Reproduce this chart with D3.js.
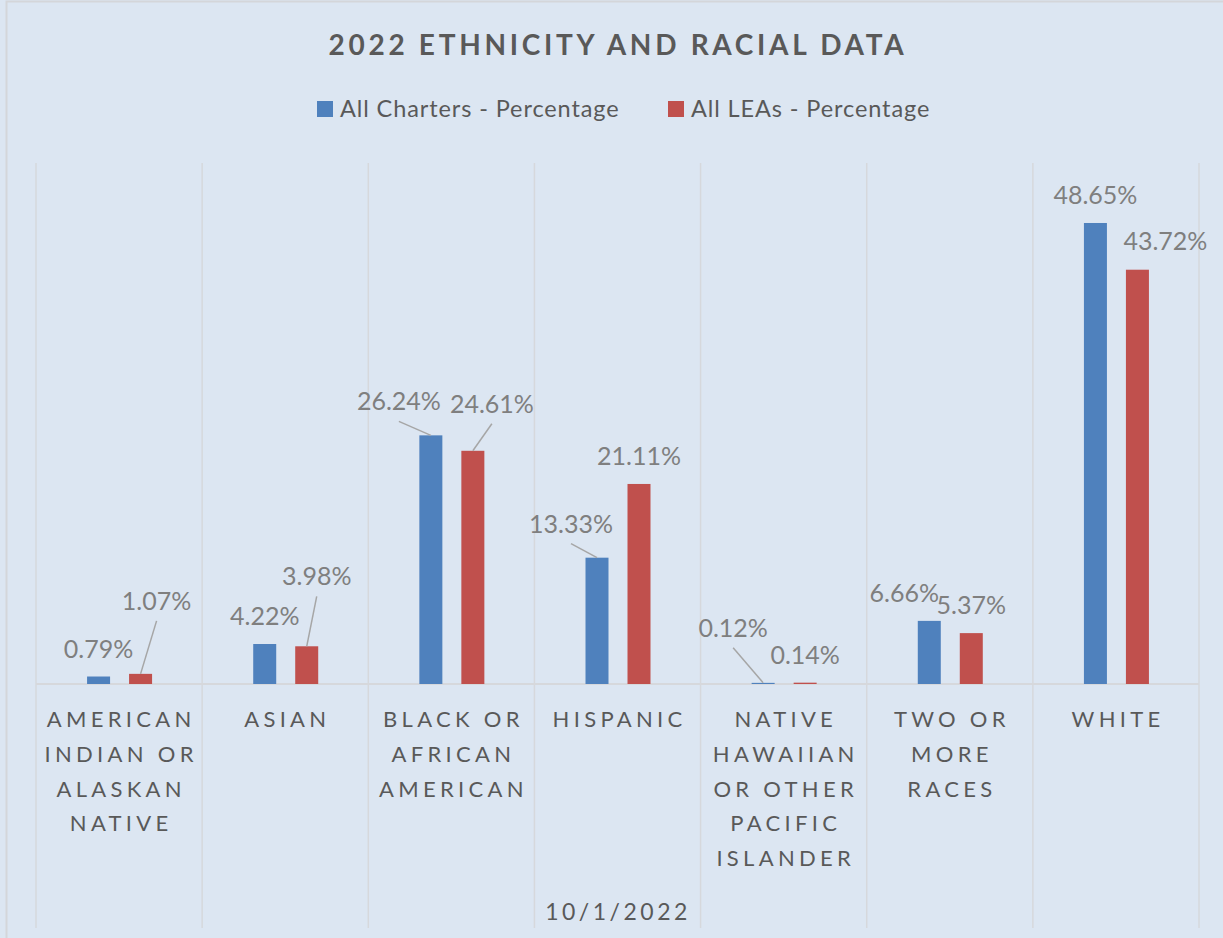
<!DOCTYPE html>
<html>
<head>
<meta charset="utf-8">
<script src="https://cdn.jsdelivr.net/npm/d3@7"></script>
<style>
  html, body { margin: 0; padding: 0; background: #dce6f2; }
  svg { display: block; font-family: Lato, "Open Sans", sans-serif; }
</style>
</head>
<body>
<svg width="1223" height="938"></svg>
<script>
// categories, as the axis shows them (one array entry per line)
const categories = [
  ["AMERICAN", "INDIAN OR", "ALASKAN", "NATIVE"],
  ["ASIAN"],
  ["BLACK OR", "AFRICAN", "AMERICAN"],
  ["HISPANIC"],
  ["NATIVE", "HAWAIIAN", "OR OTHER", "PACIFIC", "ISLANDER"],
  ["TWO OR", "MORE", "RACES"],
  ["WHITE"]
];

const seriesNames = ["All Charters - Percentage", "All LEAs - Percentage"];
const seriesColors = ["#4f81bd", "#c0504d"];

// percent values
const charters = [0.79, 4.22, 26.24, 13.33, 0.12, 6.66, 48.65];
const leas     = [1.07, 3.98, 24.61, 21.11, 0.14, 5.37, 43.72];

const chartTitle = "2022 ETHNICITY AND RACIAL DATA";
const axisTitle  = "10/1/2022";

// labels that were dragged off their bar in the original: [dx, dy, leader?]
const labelMoves = [
  [[0, 0, false], [16, -45, true]],
  [[0, 0, false], [10, -42, true]],
  [[-32, -6, true], [19, -19, true]],
  [[-26, -6, true], [0, 0, false]],
  [[-30, -27, true], [0, 0, false]],
  [[-25, 0, false], [0, 0, false]],
  [[0, 0, false], [28, -1, false]]
];


const svg = d3.select("svg");
const width  = +svg.attr("width");
const height = +svg.attr("height");

const plot = {left: 36, right: 1199, top: 163, base: 684, bottom: 928};

const x = d3.scaleBand()
  .domain(d3.range(categories.length))
  .range([plot.left, plot.right]);

// two bars per group, 23px wide with a 19px gap, centred in the band
const xSub = d3.scaleBand()
  .domain([0, 1])
  .range([x.bandwidth() / 2 - 32, x.bandwidth() / 2 + 33])
  .paddingInner(19 / 42);

const y = d3.scaleLinear()
  .domain([0, 60])
  .range([plot.base, plot.base - 60 * 9.476]);

// chart border
svg.append("rect")
  .attr("x", 6.5).attr("y", 1.5)
  .attr("width", width + 10).attr("height", height + 10)
  .attr("fill", "#dce6f2")
  .attr("stroke", "#d4d6da")
  .attr("stroke-width", 2);

// title
svg.append("text")
  .attr("x", 618).attr("y", 55)
  .attr("text-anchor", "middle")
  .attr("fill", "#595959")
  .attr("font-size", 28)
  .attr("font-weight", "bold")
  .attr("letter-spacing", 3.7)
  .text(chartTitle);

// legend
const legend = svg.append("g");
const legendX = [317, 668];
seriesNames.forEach((name, i) => {
  legend.append("rect")
    .attr("x", legendX[i]).attr("y", 101)
    .attr("width", 16).attr("height", 16)
    .attr("fill", seriesColors[i]);
  legend.append("text")
    .attr("x", legendX[i] + 23).attr("y", 117)
    .attr("fill", "#595959")
    .attr("font-size", 23.5)
    .attr("letter-spacing", 0.9)
    .text(name);
});

// vertical category separators
const grid = svg.append("g");
d3.range(categories.length + 1).forEach(i => {
  const gx = i < categories.length ? x(i) : x.range()[1];
  grid.append("line")
    .attr("x1", gx).attr("x2", gx)
    .attr("y1", plot.top).attr("y2", plot.bottom)
    .attr("stroke", "#d6d8dc")
    .attr("stroke-width", 1.5);
});

// category axis line
svg.append("line")
  .attr("x1", plot.left).attr("x2", plot.right)
  .attr("y1", plot.base).attr("y2", plot.base)
  .attr("stroke", "#d6d8dc")
  .attr("stroke-width", 2);

// bars
const data = [charters, leas];
const bars = svg.append("g");
data.forEach((values, s) => {
  bars.selectAll("rect.s" + s)
    .data(values)
    .enter()
    .append("rect")
    .attr("class", "s" + s)
    .attr("x", (d, i) => x(i) + xSub(s))
    .attr("width", xSub.bandwidth())
    .attr("y", d => y(d))
    .attr("height", d => y(0) - y(d))
    .attr("fill", seriesColors[s]);
});

// data labels + leader lines
const labels = svg.append("g");
data.forEach((values, s) => {
  values.forEach((v, i) => {
    const cx = x(i) + xSub(s) + xSub.bandwidth() / 2;
    const top = y(v);
    const [dx, dy, leader] = labelMoves[i][s];
    const lx = cx + dx;
    const ly = top - 19 + dy;
    if (leader) {
      labels.append("line")
        .attr("x1", lx).attr("y1", ly + 11)
        .attr("x2", cx).attr("y2", top)
        .attr("stroke", "#a6a6a6")
        .attr("stroke-width", 1.5);
    }
    labels.append("text")
      .attr("x", lx).attr("y", ly)
      .attr("text-anchor", "middle")
      .attr("fill", "#7f7f7f")
      .attr("font-size", 25)
      .text(v.toFixed(2) + "%");
  });
});

// category labels
const ticks = svg.append("g");
categories.forEach((lines, i) => {
  const t = ticks.append("text")
    .attr("text-anchor", "middle")
    .attr("fill", "#595959")
    .attr("font-size", 22)
    .attr("letter-spacing", 4.3);
  lines.forEach((line, j) => {
    t.append("tspan")
      .attr("x", x(i) + x.bandwidth() / 2 + 2.1)
      .attr("y", 727 + j * 34.8)
      .text(line);
  });
});

// axis title
svg.append("text")
  .attr("x", 618).attr("y", 920)
  .attr("text-anchor", "middle")
  .attr("fill", "#595959")
  .attr("font-size", 23)
  .attr("letter-spacing", 3.5)
  .text(axisTitle);
</script>
</body>
</html>
